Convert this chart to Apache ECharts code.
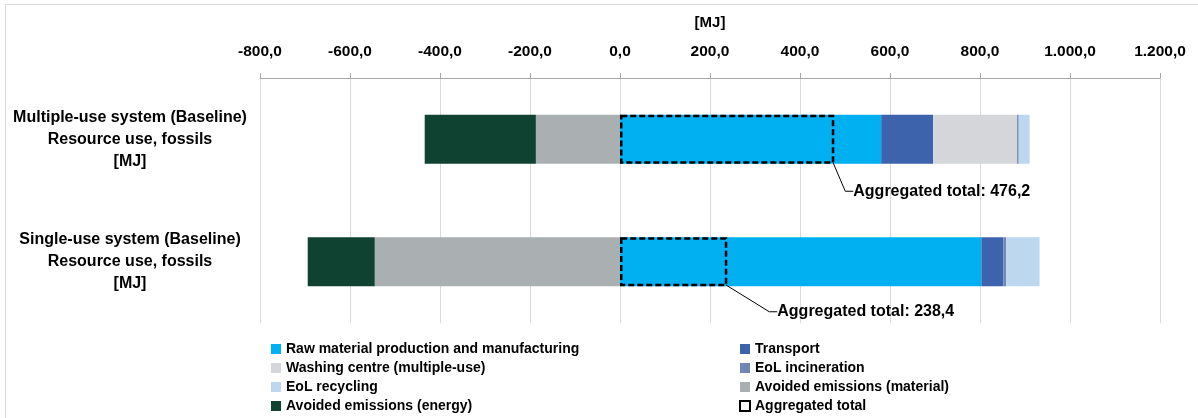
<!DOCTYPE html>
<html>
<head>
<meta charset="utf-8">
<script src="https://cdn.jsdelivr.net/npm/echarts@6/dist/echarts.min.js"></script>
<style>
    html, body { margin: 0; padding: 0; background: #fff; }
    #frame { position: absolute; left: 5px; top: 4px; width: 1200px; height: 420px; border: 1px solid #d9d9d9; box-sizing: border-box; }
    #chart { position: absolute; left: 0; top: 0; width: 1198px; height: 418px; }
</style>
</head>
<body>
<div id="frame"></div>
<div id="chart"></div>
<script>
// categories (top to bottom)
let categories = [
    'Multiple-use system (Baseline)\nResource use, fossils\n[MJ]',
    'Single-use system (Baseline)\nResource use, fossils\n[MJ]'
];
// tick values of the top axis
let axisMin = -800;
let axisMax = 1200;
let axisStep = 200;

// contributions [multiple-use, single-use] in MJ
let rawMaterial = [580.4, 803.0];
let transport = [115.6, 49.0];
let washingCentre = [186.5, 0];
let eolIncineration = [3.5, 6.0];
let eolRecycling = [24.2, 74.4];
let avoidedMaterial = [-187.0, -545.0];
let avoidedEnergy = [-247.0, -149.0];
let aggregatedTotal = [476.2, 238.4];

// 1.000,0 style numbers
function fmt(v) {
    let neg = v < 0;
    let parts = Math.abs(v).toFixed(1).split('.');
    let intPart = parts[0].replace(/\B(?=(\d{3})+(?!\d))/g, '.');
    return (neg ? '-' : '') + intPart + ',' + parts[1];
}

let font = 'Liberation Sans';
let barW = 49;

function stackSeries(name, data, color) {
    return {
        name: name,
        type: 'bar',
        stack: 'sum',
        barWidth: barW,
        barGap: '-100%',
        data: data,
        itemStyle: { color: color },
        emphasis: { disabled: true }
    };
}

let legendText = { fontFamily: font, fontWeight: 'bold', fontSize: 14, color: '#000', lineHeight: 14 };

let option = {
    animation: false,
    textStyle: { fontFamily: font },
    grid: { left: 260, right: 38, top: 78, bottom: 95 },
    xAxis: {
        type: 'value',
        position: 'top',
        min: axisMin,
        max: axisMax,
        interval: axisStep,
        name: '[MJ]',
        nameLocation: 'middle',
        nameGap: 48,
        nameTextStyle: { fontFamily: font, fontWeight: 'bold', fontSize: 15, color: '#000' },
        axisLine: { show: true, lineStyle: { color: '#a6a6a6' } },
        axisTick: { show: true, length: 5, lineStyle: { color: '#a6a6a6' } },
        axisLabel: { margin: 18, fontFamily: font, fontWeight: 'bold', fontSize: 15.5, color: '#000', formatter: fmt },
        splitLine: { show: true, lineStyle: { color: '#d9d9d9' } }
    },
    yAxis: {
        type: 'category',
        inverse: true,
        data: categories,
        axisLine: { show: false },
        axisTick: { show: false },
        axisLabel: {
            align: 'center',
            margin: 130,
            padding: [4, 0, 0, 0],
            fontFamily: font,
            fontWeight: 'bold',
            fontSize: 16,
            lineHeight: 22,
            color: '#000'
        }
    },
    legend: [{
        orient: 'vertical',
        left: 271,
        top: 342,
        padding: 0,
        icon: 'rect',
        itemWidth: 10,
        itemHeight: 10,
        itemGap: 5,
        selectedMode: false,
        textStyle: legendText,
        data: ['Raw material production and manufacturing', 'Washing centre (multiple-use)', 'EoL recycling', 'Avoided emissions (energy)']
    }, {
        orient: 'vertical',
        left: 739,
        top: 342,
        padding: 0,
        icon: 'rect',
        itemWidth: 10,
        itemHeight: 10,
        itemGap: 5,
        selectedMode: false,
        textStyle: legendText,
        data: ['Transport', 'EoL incineration', 'Avoided emissions (material)', 'Aggregated total']
    }],
    series: [
        stackSeries('Raw material production and manufacturing', rawMaterial, '#00b0f0'),
        stackSeries('Transport', transport, '#3d63ad'),
        stackSeries('Washing centre (multiple-use)', washingCentre, '#d4d6d9'),
        stackSeries('EoL incineration', eolIncineration, '#6f87b2'),
        stackSeries('EoL recycling', eolRecycling, '#bdd7ee'),
        stackSeries('Avoided emissions (material)', avoidedMaterial, '#aab0b2'),
        stackSeries('Avoided emissions (energy)', avoidedEnergy, '#0f4230'),
        {
            name: 'Aggregated total',
            type: 'bar',
            barWidth: barW,
            barGap: '-100%',
            z: 5,
            data: aggregatedTotal,
            itemStyle: {
                color: 'rgba(0,0,0,0)',
                borderColor: '#000',
                borderWidth: 2.5,
                borderType: [6, 3]
            },
            emphasis: { disabled: true },
            label: {
                show: true,
                position: 'right',
                fontFamily: font,
                fontWeight: 'bold',
                fontSize: 16,
                color: '#000',
                formatter: function (p) { return 'Aggregated total: ' + fmt(p.value); }
            },
            labelLayout: function (p) {
                // move the label below the box, like the callout in the source
                return p.dataIndex === 0 ? { dx: 14, dy: 52 } : { dx: 45, dy: 50 };
            },
            labelLine: { show: true, length2: 8, lineStyle: { color: '#000', width: 1 } }
        }
    ]
};

let myChart = echarts.init(document.getElementById('chart'));
myChart.setOption(option);
</script>
</body>
</html>
